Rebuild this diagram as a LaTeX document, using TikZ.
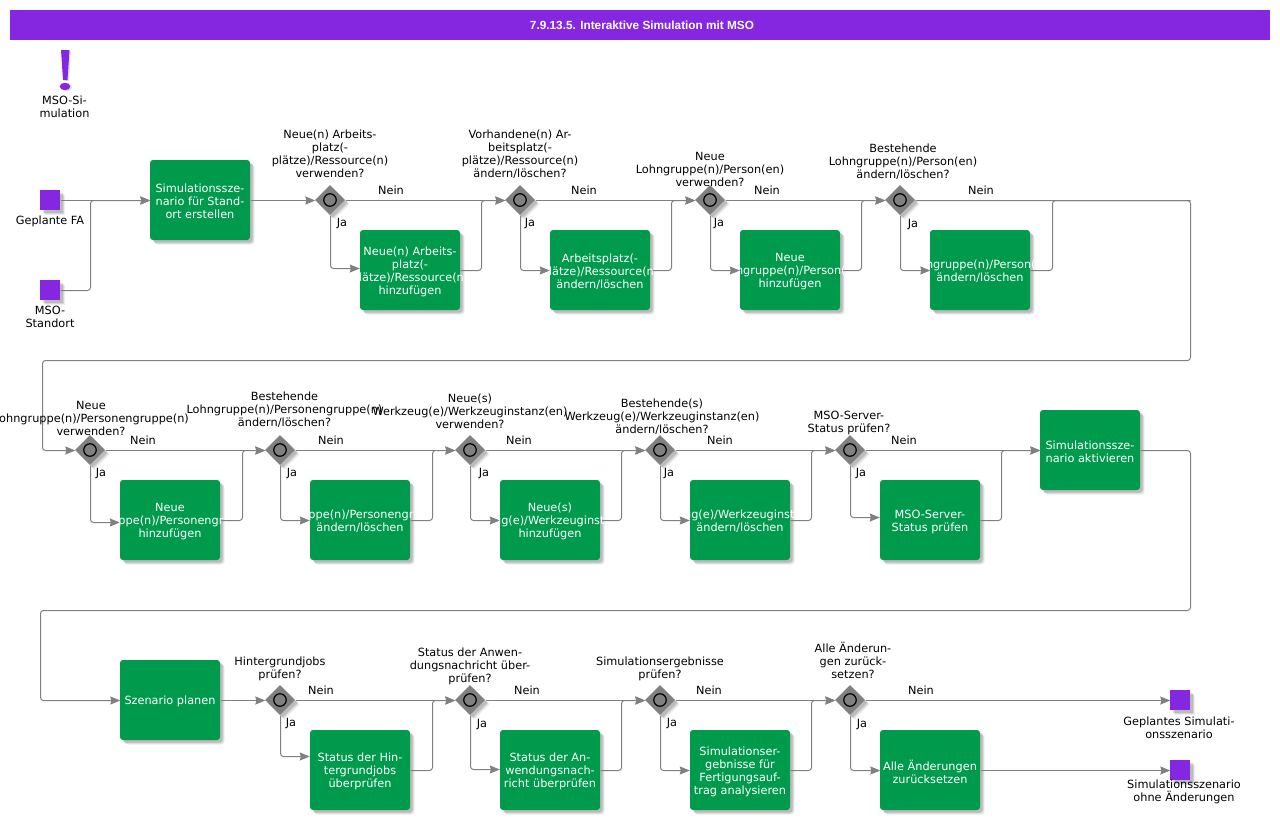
\documentclass[tikz,border=0pt]{standalone}
\usepackage{fontspec}
\setmainfont{DejaVu Sans}
\newfontfamily\titlefont{Liberation Sans}
\usetikzlibrary{shapes.geometric,arrows.meta,shadows,calc}
\definecolor{vio}{HTML}{8527E0}
\definecolor{grn}{HTML}{009A4C}
\definecolor{lin}{HTML}{808080}
\newcommand{\bodyfont}{\fontsize{11.3}{13}\selectfont}
\newcommand{\boxtext}[2]{%
  \begin{scope}
    \clip ([xshift=-.5pt]#1.south west) rectangle ([xshift=3.5pt]#1.north east);
    \node[boxlabel] (#1t) at ([yshift=-1.5pt]#1.center) {#2};
  \end{scope}}
\newcommand{\px}[1]{([xshift=.5pt,yshift=-.5pt]#1)}
\tikzset{
  txt/.style={font=\bodyfont,align=center,inner sep=0pt,text=black},
  boxlabel/.style={font=\bodyfont,align=center,inner sep=0pt,text=white},
  soft/.style={general shadow={shadow xshift=4.5pt,shadow yshift=-4.5pt,fill=black,opacity=.07},
               general shadow={shadow xshift=3.5pt,shadow yshift=-3.5pt,fill=black,opacity=.10},
               general shadow={shadow xshift=2.5pt,shadow yshift=-2.5pt,fill=black,opacity=.12}},
  taskbox/.style={soft,rectangle,rounded corners=3pt,fill=grn,minimum width=100pt,minimum height=80pt,inner sep=0pt},
  gate/.style={soft,diamond,fill=lin,minimum width=30pt,minimum height=30pt,inner sep=0pt},
  gatering/.style={circle,draw=black,line width=1.2pt,fill=lin,minimum size=12.5pt,inner sep=0pt},
  term/.style={soft,rectangle,fill=vio,minimum width=20pt,minimum height=20pt,inner sep=0pt},
  flow/.style={draw=lin,line width=1pt,rounded corners=3pt,-{Stealth[length=10pt,width=8pt,inset=1pt,fill=lin]}},
  plain/.style={draw=lin,line width=1pt,rounded corners=3pt},
}
\begin{document}
\begin{tikzpicture}[x=1pt,y=-1pt]
\useasboundingbox (0,0) rectangle (1280,820);
\node[fill=vio,minimum width=1260pt,minimum height=30pt,inner sep=0pt,text=white,font=\titlefont\fontsize{11.8}{14}\selectfont\bfseries] (title) at (640,25) {\hspace*{4pt}7.9.13.5. Interaktive Simulation mit MSO};
% exclamation mark
\fill[black,opacity=.12] (62.5,51) -- (71,51) -- (69,81) -- (65,81) -- cycle (67,87.5) ellipse (5.3 and 3.7);
\fill[vio] (61,50) -- (69.5,50) -- (67.5,80) -- (63,80) -- cycle (65,86.5) ellipse (5.3 and 3.7);
\node[txt] (lmark) at (64.5,107) {MSO-Si-\\mulation};
% start terminals
\node[term] (s1) at (50,200) {};
\node[term] (s2) at (50,290) {};
\node[txt] (ls1) at (50,221) {Geplante FA};
\node[txt] (ls2) at (50,317) {MSO-\\Standort};
% row 1
\node[taskbox] (b0) at (200,200) {};
\node[gate] (d1) at (330,200) {};
\node[gate] (d2) at (520,200) {};
\node[gate] (d3) at (710,200) {};
\node[gate] (d4) at (900,200) {};
\node[taskbox] (b1) at (410,270) {};
\node[taskbox] (b2) at (600,270) {};
\node[taskbox] (b3) at (790,270) {};
\node[taskbox] (b4) at (980,270) {};
% row 2
\node[gate] (d5) at (90,450) {};
\node[gate] (d6) at (280,450) {};
\node[gate] (d7) at (470,450) {};
\node[gate] (d8) at (660,450) {};
\node[gate] (d9) at (850,450) {};
\node[taskbox] (b5) at (170,520) {};
\node[taskbox] (b6) at (360,520) {};
\node[taskbox] (b7) at (550,520) {};
\node[taskbox] (b8) at (740,520) {};
\node[taskbox] (b9) at (930,520) {};
\node[taskbox] (b10) at (1090,450) {};
% row 3
\node[taskbox] (b11) at (170,700) {};
\node[gate] (d10) at (280,700) {};
\node[gate] (d11) at (470,700) {};
\node[gate] (d12) at (660,700) {};
\node[gate] (d13) at (850,700) {};
\node[taskbox] (b12) at (360,770) {};
\node[taskbox] (b13) at (550,770) {};
\node[taskbox] (b14) at (740,770) {};
\node[taskbox] (b15) at (930,770) {};
\node[term] (e1) at (1180,700) {};
\node[term] (e2) at (1180,770) {};
\node[txt] (le1) at (1179,727.5) {Geplantes Simulati-\\onsszenario};
\node[txt] (le2) at (1184,791.5) {Simulationsszenario\\ohne Änderungen};
% gate rings
\foreach \d in {d1,d2,d3,d4,d5,d6,d7,d8,d9,d10,d11,d12,d13}{
  \node[gatering] (\d r) at (\d) {};
}
% joints
\coordinate (j0) at (90.5,200.5);
\coordinate (j1) at (481.5,200.5);
\coordinate (j2) at (671.5,200.5);
\coordinate (j3) at (861.5,200.5);
\coordinate (j4) at (1052.5,200.5);
\coordinate (c1) at (1190.5,200.5);
\coordinate (c2) at (1190.5,360.5);
\coordinate (c3) at (42.5,360.5);
\coordinate (c4) at (42.5,450.5);
\coordinate (j5) at (242.5,450.5);
\coordinate (j6) at (432.5,450.5);
\coordinate (j7) at (621.5,450.5);
\coordinate (j8) at (811.5,450.5);
\coordinate (j9) at (1001.5,450.5);
\coordinate (c5) at (1190.5,450.5);
\coordinate (c6) at (1190.5,610.5);
\coordinate (c7) at (40.5,610.5);
\coordinate (c8) at (40.5,700.5);
\coordinate (j10) at (432.5,700.5);
\coordinate (j11) at (621.5,700.5);
\coordinate (j12) at (811.5,700.5);
% connectors
\draw[flow] \px{s1.east} -- \px{b0.west};
\draw[flow] \px{s2.east} -| (j0) -- \px{b0.west};
\draw[flow] \px{b0.east} -- \px{d1.west};
\foreach \a/\b/\j/\c/\s in {d1/b1/j1/d2/2,d2/b2/j2/d3/0,d3/b3/j3/d4/0}{
  \draw[flow] \px{\a.east} -- \px{\c.west};
  \draw[flow] \px{\a.south} |- ([yshift=\s pt-.5pt]\b.west);
  \draw[flow] \px{\b.east} -| (\j) -- \px{\c.west};
}
\draw[flow] \px{d4.south} |- \px{b4.west};
\draw[plain] \px{b4.east} -| (j4) -- (c1);
\draw[flow] \px{d4.east} -- (c1) -- (c2) -- (c3) -- (c4) -- \px{d5.west};
\foreach \a/\b/\j/\c/\s in {d5/b5/j5/d6/-2,d6/b6/j6/d7/0,d7/b7/j7/d8/0,d8/b8/j8/d9/0}{
  \draw[flow] \px{\a.east} -- \px{\c.west};
  \draw[flow] \px{\a.south} |- ([yshift=\s pt-.5pt]\b.west);
  \draw[flow] \px{\b.east} -| (\j) -- \px{\c.west};
}
\draw[flow] \px{d9.east} -- \px{b10.west};
\draw[flow] \px{d9.south} |- ([yshift=3pt-.5pt]b9.west);
\draw[flow] \px{b9.east} -| (j9) -- \px{b10.west};
\draw[flow] \px{b10.east} -- (c5) -- (c6) -- (c7) -- (c8) -- \px{b11.west};
\draw[flow] \px{b11.east} -- \px{d10.west};
\foreach \a/\b/\j/\c/\s in {d10/b12/j10/d11/14,d11/b13/j11/d12/1,d12/b14/j12/d13/0}{
  \draw[flow] \px{\a.east} -- \px{\c.west};
  \draw[flow] \px{\a.south} |- ([yshift=\s pt-.5pt]\b.west);
  \draw[flow] \px{\b.east} -| (\j) -- \px{\c.west};
}
\draw[flow] \px{d13.east} -- \px{e1.west};
\draw[flow] \px{d13.south} |- \px{b15.west};
\draw[flow] \px{b15.east} -- \px{e2.west};
% box texts
\boxtext{b0}{Simulationssze-\\nario für Stand-\\ort erstellen}
\boxtext{b1}{Neue(n) Arbeits-\\platz(-\\plätze)/Ressource(n)\\hinzufügen}
\boxtext{b2}{Arbeitsplatz(-\\plätze)/Ressource(n)\\ändern/löschen}
\boxtext{b3}{Neue\\Lohngruppe(n)/Person(en)\\hinzufügen}
\boxtext{b4}{Lohngruppe(n)/Person(en)\\ändern/löschen}
\boxtext{b5}{Neue\\Lohngruppe(n)/Personengruppe(n)\\hinzufügen}
\boxtext{b6}{Lohngruppe(n)/Personengruppe(n)\\ändern/löschen}
\boxtext{b7}{Neue(s)\\Werkzeug(e)/Werkzeuginstanz(en)\\hinzufügen}
\boxtext{b8}{Werkzeug(e)/Werkzeuginstanz(en)\\ändern/löschen}
\boxtext{b9}{MSO-Server-\\Status prüfen}
\boxtext{b10}{Simulationssze-\\nario aktivieren}
\boxtext{b11}{Szenario planen}
\boxtext{b12}{Status der Hin-\\tergrundjobs\\überprüfen}
\boxtext{b13}{Status der An-\\wendungsnach-\\richt überprüfen}
\boxtext{b14}{Simulationser-\\gebnisse für\\Fertigungsauf-\\trag analysieren}
\boxtext{b15}{Alle Änderungen\\zurücksetzen}
% question labels
\node[txt] (q1) at (330,154) {Neue(n) Arbeits-\\platz(-\\plätze)/Ressource(n)\\verwenden?};
\node[txt] (q2) at (520,154) {Vorhandene(n) Ar-\\beitsplatz(-\\plätze)/Ressource(n)\\ändern/löschen?};
\node[txt] (q3) at (710,169) {Neue\\Lohngruppe(n)/Person(en)\\verwenden?};
\node[txt] (q4) at (903,162) {Bestehende\\Lohngruppe(n)/Person(en)\\ändern/löschen?};
\node[txt] (q5) at (91,418.5) {Neue\\Lohngruppe(n)/Personengruppe(n)\\verwenden?};
\node[txt] (q6) at (284.5,410) {Bestehende\\Lohngruppe(n)/Personengruppe(n)\\ändern/löschen?};
\node[txt] (q7) at (470,411) {Neue(s)\\Werkzeug(e)/Werkzeuginstanz(en)\\verwenden?};
\node[txt] (q8) at (662,417) {Bestehende(s)\\Werkzeug(e)/Werkzeuginstanz(en)\\ändern/löschen?};
\node[txt] (q9) at (849,423) {MSO-Server-\\Status prüfen?};
\node[txt] (q10) at (280,669) {Hintergrundjobs\\prüfen?};
\node[txt] (q11) at (470,666) {Status der Anwen-\\dungsnachricht über-\\prüfen?};
\node[txt] (q12) at (660,669) {Simulationsergebnisse\\prüfen?};
\node[txt] (q13) at (853,660) {Alle Änderun-\\gen zurück-\\setzen?};
% Nein labels
\foreach \k/\x/\y in {1/391/190,2/584/190,3/767/190,4/981/190,5/143/440,6/331/440,7/519/440,8/720/440,9/904/440,10/321/690,11/527/690,12/709/690,13/921/690}{
  \node[txt] (nein\k) at (\x,\y) {Nein};
}
% Ja labels
\foreach \k/\x/\y in {1/342/224,2/530/224,3/719/224,4/913/225,5/101/474,6/292/474,7/484/474,8/669/474,9/861/474,10/291/724,11/482/725,12/672/724,13/862/725}{
  \node[txt] (ja\k) at (\x,\y) {Ja};
}
\end{tikzpicture}
\end{document}
